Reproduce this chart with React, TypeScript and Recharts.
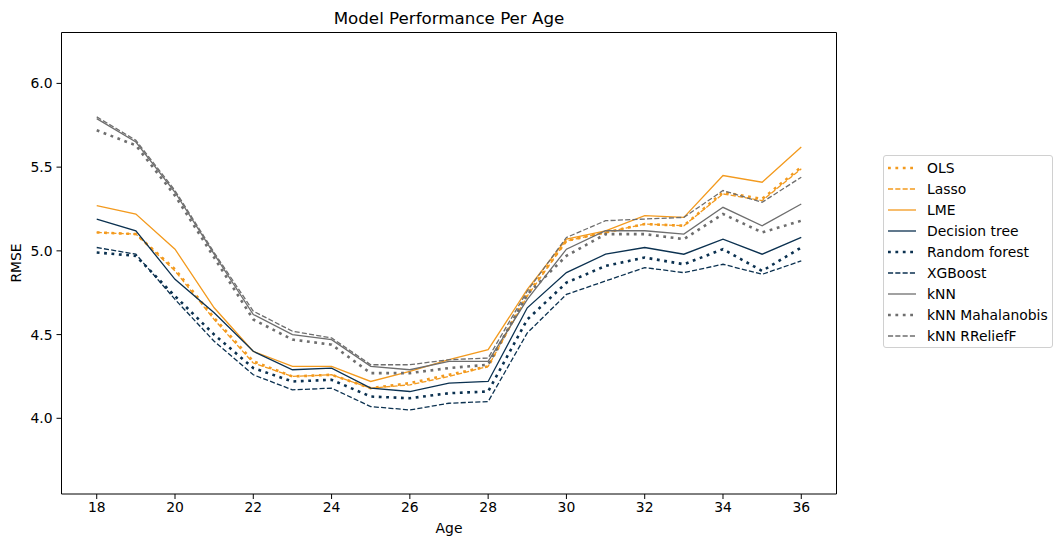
import React from "react";
import { LineChart, Line, XAxis, YAxis, ReferenceArea } from "recharts";

const ages = [18, 19, 20, 21, 22, 23, 24, 25, 26, 27, 28, 29, 30, 31, 32, 33, 34, 35, 36];
const ols = [5.11, 5.10, 4.89, 4.60, 4.34, 4.25, 4.26, 4.18, 4.21, 4.26, 4.31, 4.74, 5.06, 5.11, 5.16, 5.15, 5.35, 5.31, 5.50];
const lasso = [5.11, 5.10, 4.88, 4.59, 4.33, 4.25, 4.26, 4.18, 4.20, 4.25, 4.31, 4.73, 5.06, 5.11, 5.16, 5.15, 5.34, 5.30, 5.49];
const lme = [5.27, 5.22, 5.01, 4.66, 4.40, 4.31, 4.31, 4.22, 4.28, 4.35, 4.41, 4.77, 5.07, 5.12, 5.21, 5.20, 5.45, 5.41, 5.62];
const decisionTree = [5.19, 5.12, 4.83, 4.63, 4.40, 4.29, 4.30, 4.18, 4.16, 4.21, 4.22, 4.66, 4.87, 4.98, 5.02, 4.98, 5.07, 4.98, 5.08];
const randomForest = [4.99, 4.97, 4.73, 4.50, 4.30, 4.22, 4.23, 4.13, 4.12, 4.15, 4.16, 4.59, 4.81, 4.91, 4.96, 4.92, 5.01, 4.88, 5.02];
const xgboost = [5.02, 4.98, 4.71, 4.46, 4.26, 4.17, 4.18, 4.07, 4.05, 4.09, 4.10, 4.51, 4.74, 4.82, 4.90, 4.87, 4.92, 4.86, 4.94];
const knn = [5.79, 5.65, 5.35, 4.98, 4.62, 4.50, 4.47, 4.31, 4.29, 4.34, 4.34, 4.71, 5.01, 5.12, 5.12, 5.10, 5.26, 5.15, 5.28];
const knnMahalanobis = [5.72, 5.63, 5.33, 4.96, 4.59, 4.47, 4.44, 4.27, 4.27, 4.30, 4.32, 4.74, 4.97, 5.10, 5.10, 5.07, 5.22, 5.11, 5.18];
const knnRrelieff = [5.80, 5.66, 5.36, 4.99, 4.64, 4.52, 4.48, 4.32, 4.32, 4.35, 4.36, 4.76, 5.08, 5.18, 5.19, 5.20, 5.36, 5.29, 5.44];

const xTicks = [18, 20, 22, 24, 26, 28, 30, 32, 34, 36];
const yTicks = [4.0, 4.5, 5.0, 5.5, 6.0];

const ORANGE = "#f39a1e";
const NAVY = "#0b3150";
const GRAY = "#6e6e6e";

const DOT = "2.8 4.6";
const DASH = "5.1 2.2";

const series = [
  { key: "ols", name: "OLS", values: ols, color: ORANGE, dash: DOT, width: 2.6 },
  { key: "lasso", name: "Lasso", values: lasso, color: ORANGE, dash: DASH, width: 1.3 },
  { key: "lme", name: "LME", values: lme, color: ORANGE, dash: undefined, width: 1.3 },
  { key: "dt", name: "Decision tree", values: decisionTree, color: NAVY, dash: undefined, width: 1.3 },
  { key: "rf", name: "Random forest", values: randomForest, color: NAVY, dash: DOT, width: 2.6 },
  { key: "xgb", name: "XGBoost", values: xgboost, color: NAVY, dash: DASH, width: 1.3 },
  { key: "knn", name: "kNN", values: knn, color: GRAY, dash: undefined, width: 1.3 },
  { key: "knnm", name: "kNN Mahalanobis", values: knnMahalanobis, color: GRAY, dash: DOT, width: 2.6 },
  { key: "knnr", name: "kNN RReliefF", values: knnRrelieff, color: GRAY, dash: DASH, width: 1.3 },
];

const data = ages.map((age, i) => {
  const row: Record<string, number> = { age };
  series.forEach((s) => {
    row[s.key] = s.values[i];
  });
  return row;
});

const FONT = "'DejaVu Sans', sans-serif";
const X_DOMAIN: [number, number] = [17.1, 36.9];
const Y_DOMAIN: [number, number] = [3.548, 6.304];

const LegendBox = () => (
  <div
    style={{
      position: "absolute",
      left: 875,
      top: 147,
      width: 160,
      border: "1px solid #d0d0d0",
      borderRadius: 3,
      background: "#fff",
      padding: "1px 6px 1px 2px",
      fontFamily: FONT,
      fontSize: 13.9,
      color: "#000",
      boxSizing: "content-box",
    }}
  >
    {series.map((s) => (
      <div key={s.key} style={{ display: "flex", alignItems: "center", height: 21 }}>
        <svg width={34} height={10} style={{ marginRight: 7, flexShrink: 0 }}>
          <line x1={2} y1={5} x2={30} y2={5} stroke={s.color} strokeWidth={s.width} strokeDasharray={s.dash} />
        </svg>
        <span style={{ whiteSpace: "nowrap" }}>{s.name}</span>
      </div>
    ))}
  </div>
);

export default function App() {
  return (
    <div style={{ position: "relative", width: 1046, height: 531, fontFamily: FONT }}>
      <LineChart
        width={1046}
        height={531}
        data={data}
        margin={{ top: 24.5, right: 217.5, bottom: 15, left: 3.5 }}
        style={{ position: "absolute", left: 0, top: 0 }}
      >
        <XAxis
          dataKey="age"
          type="number"
          domain={X_DOMAIN}
          ticks={xTicks}
          allowDataOverflow
          height={30}
          tickSize={5}
          tickMargin={3}
          axisLine={false}
          tickLine={{ stroke: "#000", strokeWidth: 1 }}
          tick={{ fill: "#000", fontSize: 13.9, fontFamily: FONT }}
        />
        <YAxis
          type="number"
          domain={Y_DOMAIN}
          ticks={yTicks}
          allowDataOverflow
          width={50}
          tickSize={5}
          tickMargin={4}
          axisLine={false}
          tickLine={{ stroke: "#000", strokeWidth: 1 }}
          tick={{ fill: "#000", fontSize: 13.9, fontFamily: FONT }}
          tickFormatter={(v: number) => v.toFixed(1)}
        />
        {series.map((s) => (
          <Line
            key={s.key}
            dataKey={s.key}
            name={s.name}
            stroke={s.color}
            strokeWidth={s.width}
            strokeDasharray={s.dash}
            dot={false}
            activeDot={false}
            type="linear"
            isAnimationActive={false}
          />
        ))}
        <ReferenceArea
          x1={X_DOMAIN[0]}
          x2={X_DOMAIN[1]}
          y1={Y_DOMAIN[0]}
          y2={Y_DOMAIN[1]}
          fill="none"
          fillOpacity={0}
          stroke="#000"
          strokeWidth={1}
          ifOverflow="visible"
        />
      </LineChart>
      <div
        style={{
          position: "absolute",
          left: 53.5,
          width: 775,
          top: 0,
          textAlign: "center",
          fontSize: 16.7,
          lineHeight: "20px",
          color: "#000",
        }}
      >
        Model Performance Per Age
      </div>
      <div
        style={{
          position: "absolute",
          left: 53.5,
          width: 775,
          top: 512,
          textAlign: "center",
          fontSize: 13.9,
          lineHeight: "16px",
          color: "#000",
        }}
      >
        Age
      </div>
      <div
        style={{
          position: "absolute",
          left: 8,
          top: 255,
          transform: "translate(-50%, -50%) rotate(-90deg)",
          fontSize: 13.9,
          lineHeight: "16px",
          color: "#000",
        }}
      >
        RMSE
      </div>
      <LegendBox />
    </div>
  );
}
